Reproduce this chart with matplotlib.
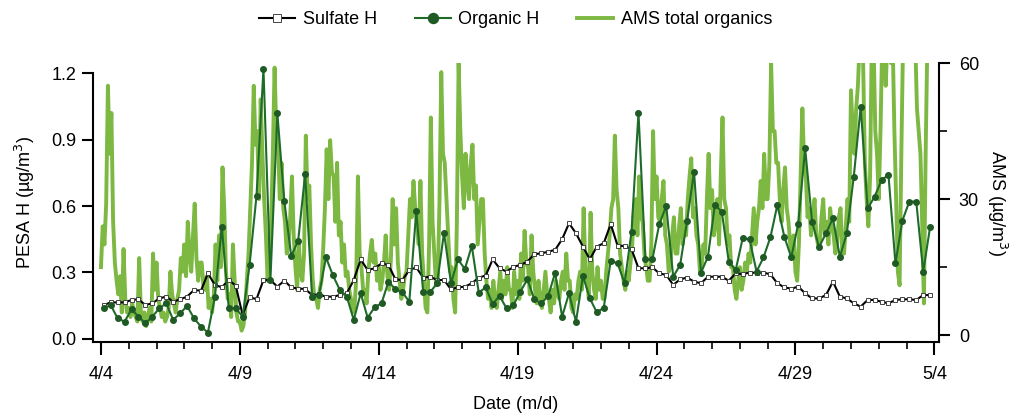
import numpy as np
import matplotlib.pyplot as plt
from matplotlib.ticker import MultipleLocator, FormatStrFormatter

plt.rcParams['font.family'] = ['Liberation Sans', 'DejaVu Sans']
plt.rcParams['font.size'] = 13

# PESA samples every 6 h, first sample ~2 h after midnight 4/4 (days since 4/4)
pesa_start, pesa_step = 0.1, 0.25
sulfate_h = [
    0.153, 0.165, 0.165, 0.165, 0.176, 0.179, 0.153, 0.161, 0.183, 0.191, 0.168, 0.179,
    0.191, 0.221, 0.218, 0.296, 0.244, 0.233, 0.266, 0.241, 0.108, 0.188, 0.180, 0.266,
    0.266, 0.236, 0.263, 0.233, 0.227, 0.226, 0.198, 0.201, 0.191, 0.191, 0.198, 0.206,
    0.266, 0.359, 0.311, 0.319, 0.341, 0.334, 0.269, 0.266, 0.311, 0.323, 0.277, 0.281,
    0.266, 0.266, 0.224, 0.233, 0.236, 0.251, 0.277, 0.286, 0.359, 0.319, 0.304, 0.326,
    0.334, 0.349, 0.383, 0.386, 0.394, 0.402, 0.450, 0.522, 0.477, 0.417, 0.359,
    0.417, 0.432, 0.519, 0.420, 0.420, 0.405, 0.319, 0.319, 0.323, 0.296, 0.289, 0.244,
    0.269, 0.277, 0.259, 0.251, 0.281, 0.281, 0.281, 0.263, 0.296, 0.293, 0.299, 0.299,
    0.299, 0.292, 0.251, 0.233, 0.227, 0.236, 0.206, 0.183, 0.183, 0.198, 0.259, 0.191,
    0.183, 0.161, 0.146, 0.176, 0.176, 0.168, 0.161, 0.176, 0.179, 0.179, 0.176, 0.198, 0.198,
]
organic_h = [
    0.138, 0.153, 0.093, 0.078, 0.134, 0.101, 0.071, 0.101, 0.138, 0.161, 0.086, 0.116,
    0.149, 0.093, 0.056, 0.029, 0.188, 0.507, 0.138, 0.138, 0.101, 0.334, 0.647, 1.218,
    0.266, 1.018, 0.623, 0.374, 0.444, 0.744, 0.188, 0.198, 0.368, 0.287, 0.221, 0.191,
    0.086, 0.206, 0.096, 0.143, 0.161, 0.259, 0.224, 0.211, 0.168, 0.577, 0.211, 0.211,
    0.251, 0.480, 0.251, 0.359, 0.316, 0.420, 0.209, 0.233, 0.158, 0.194, 0.138, 0.153,
    0.214, 0.269, 0.179, 0.161, 0.194, 0.299, 0.101, 0.206, 0.078, 0.284, 0.183,
    0.120, 0.141, 0.353, 0.341, 0.251, 0.484, 1.021, 0.359, 0.359, 0.519, 0.600, 0.281,
    0.334, 0.534, 0.755, 0.299, 0.371, 0.605, 0.574, 0.349, 0.311, 0.454, 0.450, 0.304,
    0.368, 0.459, 0.605, 0.462, 0.368, 0.519, 0.860, 0.529, 0.414, 0.477, 0.544, 0.371,
    0.477, 0.732, 1.048, 0.589, 0.642, 0.717, 0.740, 0.341, 0.534, 0.620, 0.620, 0.304, 0.507,
]

# AMS total organics, 1.5-h values (ug/m3), one row per day from 4/4
ams_step = 1.5 / 24
ams_org = [
    15, 24, 20, 29, 55, 40, 49, 25, 16, 12, 9, 13, 5, 19, 8, 5,
    6, 4, 7, 5, 4, 3, 17, 5, 3, 5, 2, 4, 6, 3, 18, 10,
    16, 8, 6, 4, 5, 3, 4, 6, 14, 9, 7, 5, 8, 10, 17, 14,
    20, 13, 25, 18, 14, 22, 29, 17, 12, 16, 16, 11, 10, 13, 6, 8,
    5, 9, 20, 12, 22, 15, 37, 28, 14, 8, 9, 4, 20, 12, 5, 3,
    3, 1, 2, 5, 12, 18, 28, 38, 55, 42, 45, 30, 52, 40, 30, 22,
    12, 20, 25, 40, 59, 45, 42, 30, 38, 28, 25, 18, 20, 26, 35, 22,
    15, 10, 20, 14, 12, 18, 44, 30, 33, 20, 12, 8, 8, 6, 10, 12,
    19, 28, 41, 30, 43, 36, 35, 25, 38, 22, 25, 16, 20, 13, 14, 10,
    8, 5, 6, 12, 35, 18, 15, 10, 10, 7, 14, 18, 21, 16, 18, 12,
    15, 10, 12, 16, 22, 13, 10, 17, 30, 20, 28, 16, 12, 8, 10, 13,
    14, 22, 30, 26, 34, 28, 25, 20, 34, 18, 12, 6, 5, 20, 48, 25,
    18, 11, 12, 30, 58, 40, 38, 30, 22, 14, 15, 8, 5, 25, 60, 45,
    35, 28, 40, 34, 30, 38, 42, 30, 33, 20, 25, 30, 30, 18, 12, 8,
    10, 6, 12, 8, 6, 10, 14, 8, 12, 9, 15, 10, 10, 6, 14, 9,
    12, 8, 18, 12, 23, 16, 15, 9, 22, 14, 10, 7, 12, 8, 6, 10,
    14, 9, 8, 5, 10, 7, 12, 9, 8, 12, 14, 10, 18, 12, 12, 6,
    5, 9, 8, 12, 14, 10, 28, 15, 12, 8, 27, 14, 10, 8, 15, 10,
    12, 8, 8, 14, 18, 22, 28, 30, 44, 32, 28, 18, 15, 12, 10, 14,
    12, 16, 20, 28, 30, 22, 35, 26, 25, 18, 15, 12, 12, 20, 45, 30,
    35, 26, 25, 30, 34, 22, 20, 14, 15, 22, 26, 18, 18, 24, 28, 20,
    25, 22, 30, 35, 39, 26, 28, 22, 20, 14, 15, 20, 18, 30, 40, 28,
    32, 22, 25, 30, 20, 35, 48, 30, 28, 20, 22, 15, 15, 10, 8, 12,
    15, 10, 12, 16, 14, 18, 16, 22, 28, 20, 25, 28, 34, 28, 40, 30,
    30, 38, 60, 45, 45, 38, 38, 30, 25, 32, 37, 28, 25, 20, 18, 22,
    14, 12, 20, 35, 50, 38, 35, 26, 28, 22, 25, 30, 22, 20, 20, 26,
    30, 22, 25, 20, 28, 24, 22, 18, 20, 26, 28, 18, 18, 24, 30, 25,
    54, 45, 40, 50, 55, 65, 65, 60, 38, 30, 24, 35, 65, 65, 45, 40,
    30, 45, 65, 65, 55, 65, 65, 60, 65, 45, 30, 14, 11, 40, 65, 65,
    65, 65, 62, 65, 65, 65, 50, 45, 40, 25, 7, 40, 65, 65, 65, 62,
]

date_ticks = [0, 5, 10, 15, 20, 25, 30]
date_labels = ['4/4', '4/9', '4/14', '4/19', '4/24', '4/29', '5/4']

pesa_t = pesa_start + pesa_step * np.arange(len(sulfate_h))
ams_t = ams_step * np.arange(len(ams_org))

fig = plt.figure(figsize=(10.21, 4.15), dpi=100)
ax = fig.add_axes([0.091, 0.176, 0.829, 0.672])
ax2 = ax.twinx()
ax.set_zorder(ax2.get_zorder() + 1)
ax.patch.set_visible(False)

ams_line, = ax2.plot(ams_t, ams_org, color='#7cb842', lw=2.8,
                     label='AMS total organics')
sul_line, = ax.plot(pesa_t, sulfate_h, color='black', lw=1.5, marker='s', ms=3.2,
                    mfc='white', mec='#444444', mew=0.7, label='Sulfate H')
org_line, = ax.plot(pesa_t, organic_h, color='#1f6b2a', lw=1.5, marker='o', ms=4.0,
                    mfc='#1f5a24', mec='#1f5a24', label='Organic H')

# axes ranges
ax.set_xlim(-0.29, 30.18)
ax.set_ylim(-0.0135, 1.245)
ax2.set_ylim(-1.5, 60)

ax.spines['top'].set_visible(False)
ax2.spines['top'].set_visible(False)
ax2.spines['left'].set_visible(False)
ax2.spines['bottom'].set_visible(False)
ax.spines['right'].set_visible(False)
for sp in [ax.spines['left'], ax.spines['bottom'], ax2.spines['right']]:
    sp.set_linewidth(1.5)
ax.spines['left'].set_bounds(-0.0135, 1.2)
ax2.spines['right'].set_bounds(-1.5, 60)

ax.set_xticks(date_ticks)
ax.set_xticklabels(date_labels)
ax.xaxis.set_minor_locator(MultipleLocator(1))
ax.yaxis.set_major_locator(MultipleLocator(0.3))
ax.yaxis.set_major_formatter(FormatStrFormatter('%.1f'))
ax2.yaxis.set_major_locator(MultipleLocator(30))
ax2.yaxis.set_minor_locator(MultipleLocator(15))

ax.tick_params(axis='x', which='major', length=9, width=1.5, pad=8, direction='out')
ax.tick_params(axis='x', which='minor', length=5, width=1.2, direction='out')
ax.tick_params(axis='y', which='major', length=8, width=1.5, pad=4)
ax2.tick_params(axis='y', which='major', length=8, width=1.5, pad=6)
ax2.tick_params(axis='y', which='minor', length=6, width=1.2)

ax.set_xlabel('Date (m/d)', labelpad=10)
ax.set_ylabel('PESA H (µg/m$^3$)', labelpad=10)
ax2.set_ylabel('AMS (µg/m$^3$)', rotation=270, labelpad=22)

fig.legend(handles=[sul_line, org_line, ams_line], loc='center',
           bbox_to_anchor=(0.505, 0.952), ncol=3, frameon=False,
           handlelength=2.0, handletextpad=0.4, columnspacing=2.1,
           markerscale=1.8)

fig.savefig('out.png', dpi=100)
